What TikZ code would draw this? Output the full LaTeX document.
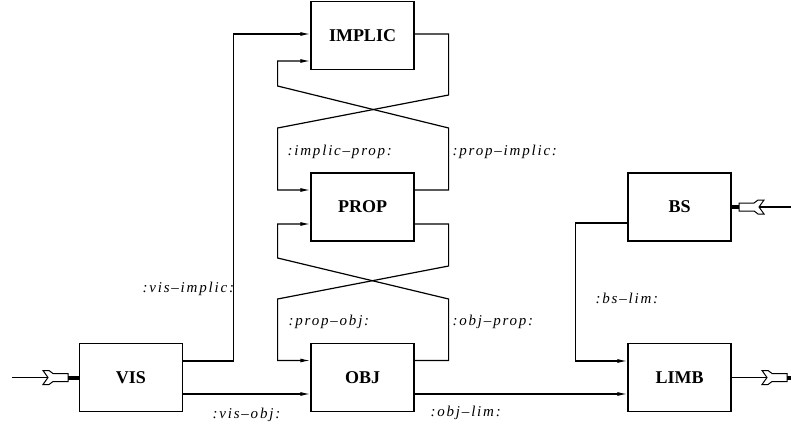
\documentclass[tikz,border=0pt]{standalone}
\usepackage{fontspec}
\setmainfont{Liberation Serif}
\newfontfamily\lblfont[LetterSpace=12]{Liberation Serif}
\usetikzlibrary{arrows.meta}
\begin{document}
\begin{tikzpicture}[x=1pt,y=-1pt,line width=1.2pt,
  box/.style={draw,minimum width=103pt,minimum height=68pt,inner sep=0pt,font=\bfseries\fontsize{18}{20}\selectfont},
  conn/.style={-{Latex[length=10pt,width=4pt]}},
  lbl/.style={font=\lblfont\itshape\fontsize{15}{17}\selectfont,anchor=west,inner sep=0pt},
  pics/port/.style={code={
    \draw[fill=white,line width=1pt] (0,-7) -- (6,-7) -- (10,-4) -- (25,-4) -- (25,4) -- (10,4) -- (6,7) -- (0,7) -- (5,0) -- cycle;
    \fill (25,-2) rectangle (25+#1,2);}}]
\useasboundingbox (0,0) rectangle (791,425);
% boxes
\node[box] (IMPLIC) at (362.5,35.5) {IMPLIC};
\node[box] (PROP) at (362.5,207) {PROP};
\node[box] (OBJ) at (362.5,377.5) {OBJ};
\node[box] (VIS) at (131,377.5) {VIS};
\node[box] (BS) at (679.5,207) {BS};
\node[box] (LIMB) at (679.5,377.5) {LIMB};
% connectors
\draw[conn] ([yshift=16.5pt]VIS.east) -- ++(50,0) |- ([yshift=1.5pt]IMPLIC.west);
\draw[conn] ([yshift=-16.5pt]VIS.east) -- ([yshift=-16.5pt]OBJ.west);
\draw[conn] ([yshift=1.5pt]IMPLIC.east) -| ++(34,61) -- ++(-171,33) |- ([yshift=17pt]PROP.west);
\draw[conn] ([yshift=17pt]PROP.east) -| ++(34,-62) -- ++(-171,-42) |- ([yshift=-25.5pt]IMPLIC.west);
\draw[conn] ([yshift=-17pt]PROP.east) -| ++(34,42) -- ++(-171,33) |- ([yshift=17pt]OBJ.west);
\draw[conn] ([yshift=17pt]OBJ.east) -| ++(34,-61.5) -- ++(-171,-41) |- ([yshift=-17pt]PROP.west);
\draw[conn] ([yshift=-16.5pt]OBJ.east) -- ([yshift=-16.5pt]LIMB.west);
\draw[conn] ([yshift=-16pt]BS.west) -- ++(-52,0) |- ([yshift=16.5pt]LIMB.west);
% external ports
\coordinate (src) at (12,377.5);
\draw (src) -- ++(36,0);
\pic at (43,377.5) {port=11};
\coordinate (bsrc) at (791,207);
\draw (bsrc) -- ++(-32,0);
\pic[rotate=180] at (764,207) {port=8};
\draw (LIMB.east) -- ++(36,0);
\pic at (762,377.5) {port=4};
% labels
\node[lbl] (l1) at (142,289) {:vis–implic:};
\node[lbl] (l2) at (287,152) {:implic–prop:};
\node[lbl] (l3) at (452,152) {:prop–implic:};
\node[lbl] (l4) at (288,322) {:prop–obj:};
\node[lbl] (l5) at (452,322) {:obj–prop:};
\node[lbl] (l6) at (212,415) {:vis–obj:};
\node[lbl] (l7) at (430,413) {:obj–lim:};
\node[lbl] (l8) at (595,298) {:bs–lim:};
\end{tikzpicture}
\end{document}
